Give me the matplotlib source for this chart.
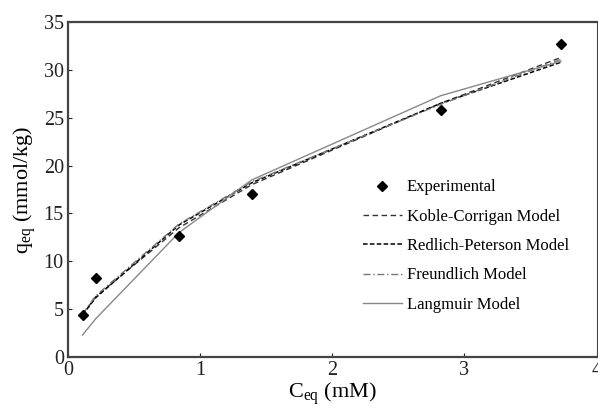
import matplotlib
matplotlib.use('Agg')
import matplotlib.pyplot as plt

plt.rcParams['font.family'] = ['Liberation Serif', 'DejaVu Serif']
plt.rcParams['mathtext.fontset'] = 'custom'
plt.rcParams['mathtext.rm'] = 'Liberation Serif'
plt.rcParams['mathtext.it'] = 'Liberation Serif'

# experimental points
c_eq = [0.11, 0.21, 0.84, 1.39, 2.82, 3.73]
q_exp = [4.4, 8.3, 12.6, 17.0, 25.8, 32.7]

# model curves evaluated at the same concentrations
q_koble = [4.4, 6.3, 13.5, 18.0, 26.5, 31.3]
q_redlich = [4.4, 6.2, 13.8, 18.2, 26.5, 30.8]
q_freund = [4.5, 6.4, 13.9, 18.3, 26.4, 31.1]
q_langmuir = [2.3, 4.0, 13.0, 18.5, 27.3, 30.9]

fig = plt.figure(figsize=(5.98, 4.08), dpi=100)
ax = fig.add_axes([0.1137, 0.125, 0.884, 0.821])

ax.plot(c_eq, q_exp, linestyle='none', marker='D', ms=5.5, color='black', label='Experimental', zorder=5)
ax.plot(c_eq, q_koble, linestyle=(0, (4, 2.5)), color='#333333', lw=1.0, label='Koble-Corrigan Model')
ax.plot(c_eq, q_redlich, linestyle=(0, (3, 1.5)), color='black', lw=1.1, label='Redlich-Peterson Model')
ax.plot(c_eq, q_freund, linestyle=(0, (5, 2, 1, 2)), color='#777777', lw=1.0, label='Freundlich Model')
ax.plot(c_eq, q_langmuir, linestyle='-', color='#888888', lw=1.0, label='Langmuir Model')

ax.set_xlim(0, 4)
ax.set_ylim(0, 35)
ax.set_xticks([0, 1, 2, 3, 4])
ax.set_yticks(range(0, 36, 5))
ax.tick_params(direction='in', length=3, width=0.8, labelsize=14.5, colors='#222222',
               top=False, right=False)
ax.tick_params(axis='x', pad=3)
ax.tick_params(axis='y', pad=3)
for side in ['left', 'bottom', 'top', 'right']:
    ax.spines[side].set_color('#444444')
ax.spines['left'].set_linewidth(1.6)
ax.spines['bottom'].set_linewidth(1.6)
ax.spines['top'].set_linewidth(1.6)
ax.spines['right'].set_linewidth(0.8)

ax.set_xlabel(r'C$_{\rm eq}$ (mM)', fontsize=16, labelpad=0)
ax.set_ylabel(r'q$_{\rm eq}$ (mmol/kg)', fontsize=16, labelpad=4)

ax.legend(loc='upper left', bbox_to_anchor=(0.53, 0.575), frameon=False, fontsize=12,
          handlelength=2.3, handletextpad=0.3, labelspacing=0.8, numpoints=1)

fig.savefig('out.png', dpi=100)
